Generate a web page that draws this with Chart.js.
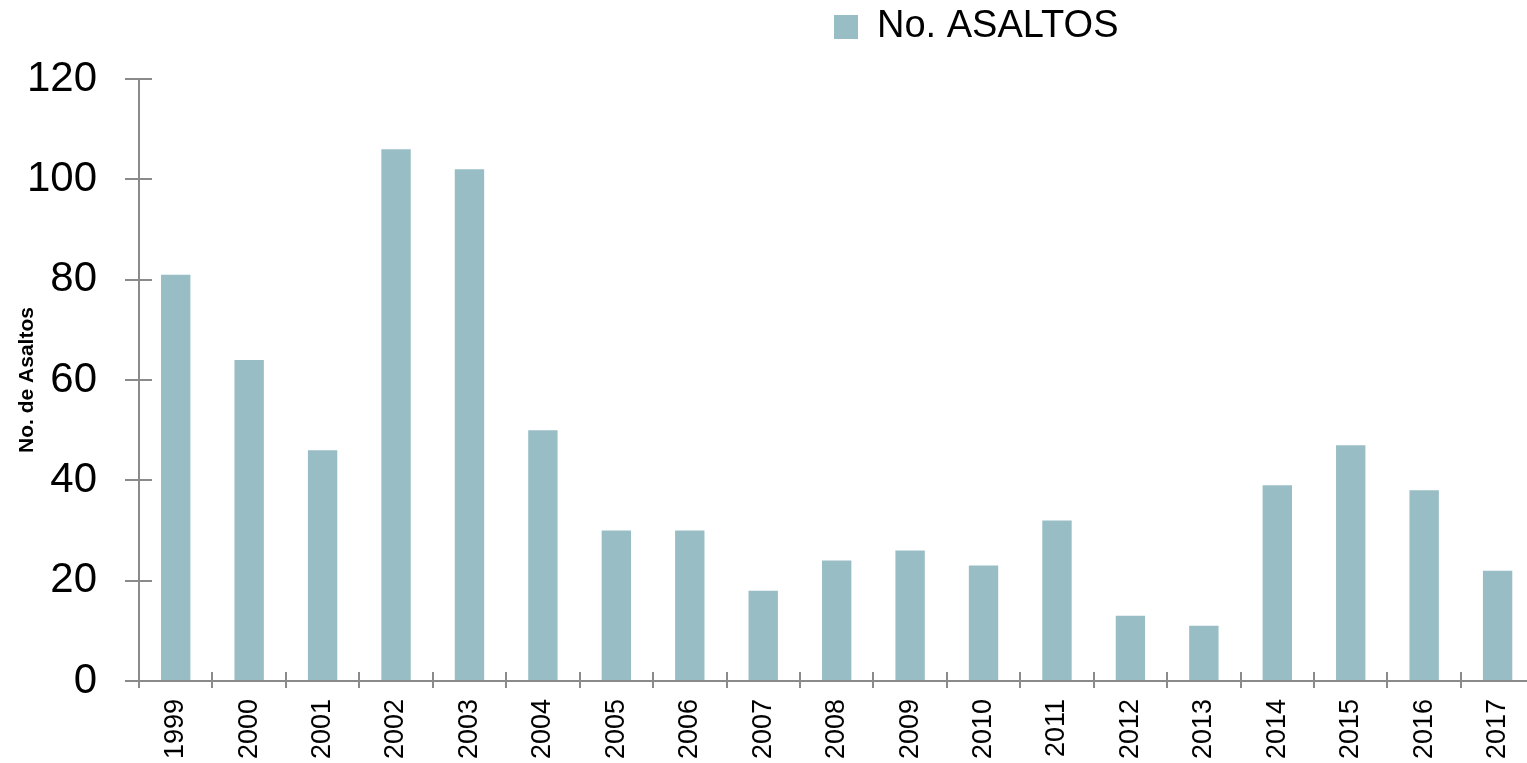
<!DOCTYPE html>
<html>
<head>
<meta charset="utf-8">
<script src="https://cdn.jsdelivr.net/npm/chart.js@4/dist/chart.umd.min.js"></script>
<style>
  html, body { margin: 0; padding: 0; background: #ffffff; overflow: hidden; }
  #wrap { position: relative; width: 1541px; height: 763px; }
</style>
</head>
<body>
<div id="wrap"><canvas id="chart"></canvas></div>
<script>
// Yearly count of robberies (asaltos)
const years = ['1999', '2000', '2001', '2002', '2003', '2004', '2005', '2006', '2007', '2008',
               '2009', '2010', '2011', '2012', '2013', '2014', '2015', '2016', '2017'];
const asaltos = [81, 64, 46, 106, 102, 50, 30, 30, 18, 24, 26, 23, 32, 13, 11, 39, 47, 38, 22];
const yTickValues = [0, 20, 40, 60, 80, 100, 120];
const seriesLabel = 'No. ASALTOS';
const yAxisTitle = 'No. de Asaltos';

const FONT = "'Liberation Sans', Arial, sans-serif";
const AXIS = '#8a8a8a';
const BAR = '#98bdc4';

// Tick marks that cross the axis lines (the inner half of each tick)
const innerTicks = {
  id: 'innerTicks',
  afterDatasetsDraw(chart) {
    const { ctx, chartArea, scales: { x, y } } = chart;
    ctx.save();
    ctx.strokeStyle = AXIS;
    ctx.lineWidth = 2;
    ctx.beginPath();
    y.ticks.forEach((t, i) => {
      const py = Math.round(y.getPixelForTick(i));
      ctx.moveTo(chartArea.left, py);
      ctx.lineTo(chartArea.left + 13, py);
    });
    for (let i = 0; i <= years.length; i++) {
      const px = Math.round(x.getPixelForValue(i - 0.5));
      ctx.moveTo(px, chartArea.bottom);
      ctx.lineTo(px, chartArea.bottom - 9);
    }
    ctx.stroke();
    ctx.restore();
  }
};

// Keep the legend at the very top, to the right of centre
const legendPlacement = {
  id: 'legendPlacement',
  afterLayout(chart) {
    const lg = chart.legend;
    if (!lg) return;
    const h = lg.height;
    lg.left = 826;
    lg.top = 0;
    lg.bottom = h;
  }
};

new Chart(document.getElementById('chart'), {
  type: 'bar',
  data: {
    labels: years,
    datasets: [{
      label: seriesLabel,
      data: asaltos,
      backgroundColor: BAR,
      borderWidth: 0,
      barPercentage: 0.4,
      categoryPercentage: 1.0
    }]
  },
  options: {
    responsive: true,
    maintainAspectRatio: false,
    animation: false,
    layout: { padding: { top: 0, left: 0, right: 0, bottom: 0 } },
    plugins: {
      legend: {
        position: 'top',
        align: 'start',
        labels: {
          font: { family: FONT, size: 38 },
          color: '#000000',
          boxWidth: 24,
          boxHeight: 24,
          padding: 8
        }
      },
      tooltip: { enabled: false }
    },
    scales: {
      x: {
        offset: true,
        grid: {
          offset: true,
          drawOnChartArea: false,
          drawTicks: true,
          tickLength: 7,
          color: AXIS,
          lineWidth: 2
        },
        border: { display: true, color: AXIS, width: 2 },
        ticks: {
          minRotation: 90,
          maxRotation: 90,
          padding: 11,
          color: '#000000',
          font: { family: FONT, size: 27 },
          autoSkip: false
        },
        afterFit(scale) { scale.height = 82; }
      },
      y: {
        min: 0,
        max: 120,
        afterBuildTicks(scale) { scale.ticks = yTickValues.map(v => ({ value: v })); },
        grid: {
          drawOnChartArea: false,
          drawTicks: true,
          tickLength: 14,
          color: AXIS,
          lineWidth: 2
        },
        border: { display: true, color: AXIS, width: 2 },
        ticks: {
          padding: 28,
          color: '#000000',
          font: { family: FONT, size: 42 }
        },
        title: {
          display: true,
          text: yAxisTitle,
          color: '#000000',
          font: { family: FONT, size: 21, weight: 'bold' },
          padding: { top: 15, bottom: 0 }
        },
        afterFit(scale) {
          scale.width = 139;
          scale.paddingTop = 79;
        }
      }
    }
  },
  plugins: [innerTicks, legendPlacement]
});
</script>
</body>
</html>
